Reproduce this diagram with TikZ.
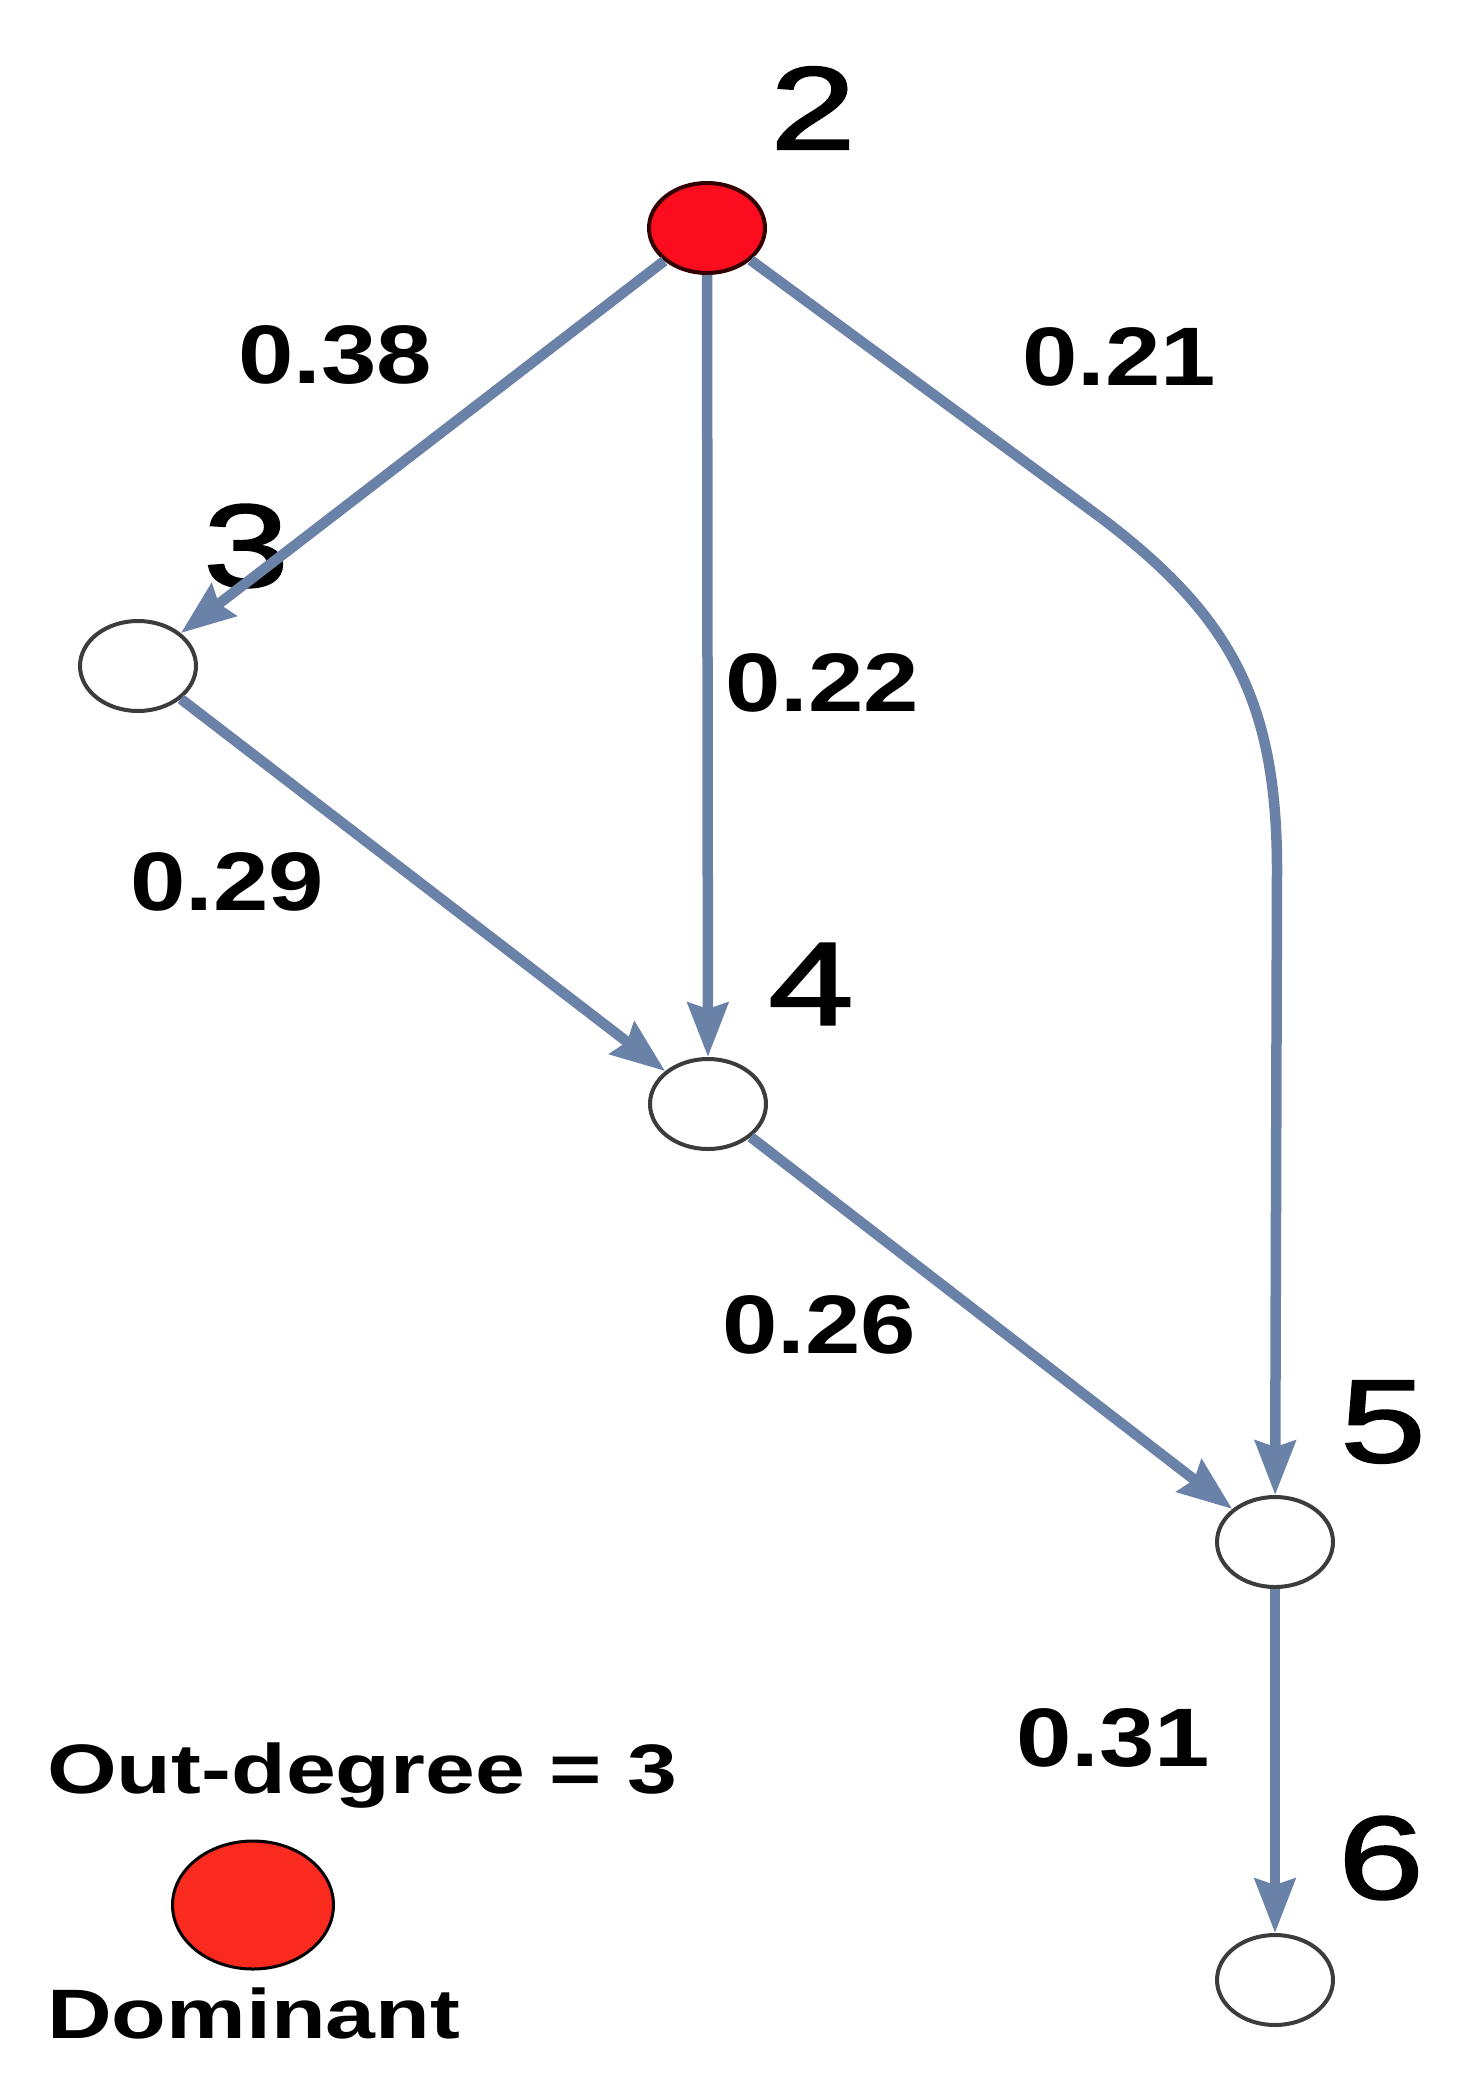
\documentclass[tikz,border=0pt]{standalone}
\usepackage{fontspec}
\setmainfont{Liberation Sans}
\newfontfamily\vfont[FakeBold=1.6]{Liberation Sans}
\usetikzlibrary{shapes.geometric,arrows.meta}
\definecolor{edgeblue}{HTML}{6B82A8}
\definecolor{nodered}{HTML}{FC0D1E}
\definecolor{legred}{HTML}{FA2A1E}
\definecolor{rimgray}{HTML}{3C3C3C}
\tikzset{
  vert/.style={ellipse, draw=rimgray, line width=4pt, fill=white, minimum width=116pt, minimum height=90pt, inner sep=0pt},
  domvert/.style={vert, fill=nodered, draw=black!80!red},
  edge/.style={draw=edgeblue, line width=10.5pt, -{Stealth[length=54pt, width=40pt, inset=6pt]}},
  plain/.style={draw=edgeblue, line width=10.5pt},
  vlabel/.style={inner sep=0pt, font=\fontsize{118}{130}\vfont},
  elabel/.style={inner sep=0pt, font=\fontsize{83}{95}\selectfont\bfseries},
  legtext/.style={inner sep=0pt, font=\fontsize{70}{80}\selectfont\bfseries}
}
\newcommand{\wideV}[1]{\scalebox{1.3}[1]{#1}}
\newcommand{\wideE}[1]{\scalebox{1.2}[1]{#1}}
\newcommand{\wideL}[1]{\scalebox{1.28}[1]{#1}}
\begin{document}
\begin{tikzpicture}[x=1pt,y=-1pt]
\useasboundingbox (0,0) rectangle (1476,2090);
% vertices
\node[domvert] (n2) at (707,228) {};
\node[vert] (n3) at (138,666) {};
\node[vert] (n4) at (708,1104) {};
\node[vert] (n5) at (1275,1542) {};
\node[vert] (n6) at (1275,1980) {};
% vertex labels
\node[vlabel] (l2) at (813,108) {\wideV{2}};
\node[vlabel] (l3) at (246,546) {\wideV{3}};
\node[vlabel] (l4) at (811,984) {\wideV{4}};
\node[vlabel] (l5) at (1383,1422) {\wideV{5}};
\node[vlabel] (l6) at (1381,1858) {\wideV{6}};
% edges
\coordinate (c1) at (1100,517);
\coordinate (c2) at (1277,870);
\draw[edge] (n2) -- (n3);
\draw[edge] (n2) -- (n4);
\draw[plain] (n2) -- (c1);
\draw[edge] (c1) .. controls (1230,615) and (1277,700) .. (c2) -- (n5);
\draw[edge] (n3) -- (n4);
\draw[edge] (n4) -- (n5);
\draw[edge] (n5) -- (n6);
% edge labels
\node[elabel] (e23) at (335,355) {\wideE{0.38}};
\node[elabel] (e25) at (1119,357) {\wideE{0.21}};
\node[elabel] (e24) at (822,683) {\wideE{0.22}};
\node[elabel] (e34) at (227,882) {\wideE{0.29}};
\node[elabel] (e45) at (819,1325) {\wideE{0.26}};
\node[elabel] (e56) at (1113,1738) {\wideE{0.31}};
% legend
\node[legtext, anchor=base west] (legtop) at (47,1793) {\wideL{Out-degree = 3}};
\node[ellipse, draw=black, line width=3pt, fill=legred, minimum width=161pt, minimum height=128pt, inner sep=0pt] (legdot) at (253,1905) {};
\node[legtext, anchor=base west] (legbot) at (47,2038) {\wideL{Dominant}};
\end{tikzpicture}
\end{document}
